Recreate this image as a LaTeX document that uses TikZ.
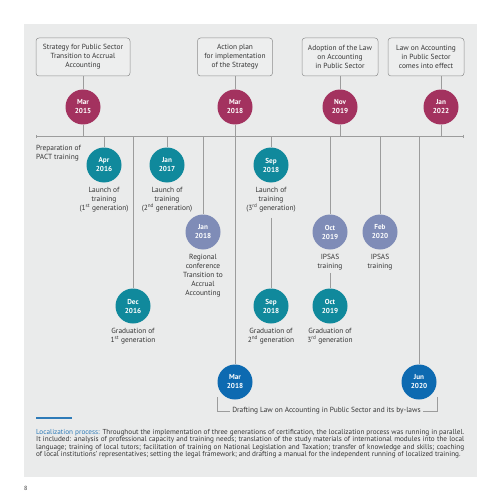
\documentclass[tikz,border=0pt]{standalone}
\usepackage{fontspec}
\setmainfont{PT Sans}
\usetikzlibrary{positioning,arrows.meta}
\definecolor{bgGray}{HTML}{EAEBEB}
\definecolor{boxFill}{HTML}{EDEEEE}
\definecolor{lineGray}{HTML}{9C9C9C}
\definecolor{boxGray}{HTML}{8E8E8E}
\definecolor{txtGray}{HTML}{353535}
\definecolor{lawRed}{HTML}{A3325F}
\definecolor{trainTeal}{HTML}{10899C}
\definecolor{eventLav}{HTML}{7F8CB7}
\definecolor{draftBlue}{HTML}{0D6AB1}
\definecolor{locBlue}{HTML}{2E7BB8}
\begin{document}
\begin{tikzpicture}[x=1pt,y=-1pt,
    font=\fontsize{7.4}{9}\selectfont,text=txtGray,
    date/.style={circle,minimum size=35pt,inner sep=0pt,align=center,
      text=white,font=\fontsize{7.2}{9}\selectfont\bfseries},
    law/.style={date,fill=lawRed},
    launch/.style={date,fill=trainTeal},
    event/.style={date,fill=eventLav},
    draft/.style={date,fill=draftBlue},
    milestone/.style={draw=boxGray,fill=boxFill,rounded corners=3pt,
      minimum height=38pt,inner sep=0pt,align=center,line width=0.5pt},
    caption/.style={align=center,inner sep=0pt},
    link/.style={draw=lineGray,line width=0.7pt}]
  \useasboundingbox (0,0) rectangle (500,500);
  \fill[white] (0,0) rectangle (500,500);
  \fill[bgGray] (24,24) rectangle (477,477);
  \node[milestone,minimum width=94pt] (box1) at (83,57)
    {Strategy for Public Sector\\Transition to Accrual\\Accounting};
  \node[milestone,minimum width=75pt] (box2) at (235,57)
    {Action plan\\for implementation\\of the Strategy};
  \node[milestone,minimum width=76pt] (box3) at (340,57)
    {Adoption of the Law\\on Accounting\\in Public Sector};
  \node[milestone,minimum width=76pt] (box4) at (426,57)
    {Law on Accounting\\in Public Sector\\comes into effect};
  \node[law] (mar15) at (83,107) {Mar\\2015};
  \node[law] (mar18) at (235,107) {Mar\\2018};
  \node[law] (nov19) at (340,107) {Nov\\2019};
  \node[law] (jan22) at (441,107) {Jan\\2022};
  \coordinate (tl) at (36,136);
  \coordinate (tr) at (464,136);
  \node[launch] (apr16) at (104,165) {Apr\\2016};
  \node[launch] (jan17) at (167,165) {Jan\\2017};
  \node[launch] (sep18) at (271,165) {Sep\\2018};
  \node[event] (jan18) at (203,232) {Jan\\2018};
  \node[event] (oct19) at (330,232) {Oct\\2019};
  \node[event] (feb20) at (380,232) {Feb\\2020};
  \node[launch] (dec16) at (133,306) {Dec\\2016};
  \node[launch] (sep18b) at (271,306) {Sep\\2018};
  \node[launch] (oct19b) at (330,306) {Oct\\2019};
  \node[draft] (mar18b) at (235,382) {Mar\\2018};
  \node[draft] (jun20) at (419,382) {Jun\\2020};
  \node[anchor=north west,align=left,inner sep=0pt] (prep) at (36,145)
    {Preparation of\\PACT training};
  \node[caption,below=4pt of apr16] (launch1)
    {Launch of\\training\\(1\textsuperscript{st} generation)};
  \node[caption,below=4pt of jan17] (launch2)
    {Launch of\\training\\(2\textsuperscript{nd} generation)};
  \node[caption,below=4pt of sep18] (launch3)
    {Launch of\\training\\(3\textsuperscript{rd} generation)};
  \node[caption,below=4pt of jan18] (conf)
    {Regional\\conference\\Transition to\\Accrual\\Accounting};
  \node[caption,below=4pt of oct19] (ipsas1) {IPSAS\\training};
  \node[caption,below=4pt of feb20] (ipsas2) {IPSAS\\training};
  \node[caption,below=4pt of dec16] (grad1)
    {Graduation of\\1\textsuperscript{st} generation};
  \node[caption,below=4pt of sep18b] (grad2)
    {Graduation of\\2\textsuperscript{nd} generation};
  \node[caption,below=4pt of oct19b] (grad3)
    {Graduation of\\3\textsuperscript{rd} generation};
  \begin{scope}[link]
    \draw[{Bar[width=3pt]}-{Bar[width=3pt]}] (tl) -- (tr);
    \draw (box1) -- (mar15) -- (mar15 |- tl);
    \draw (box2) -- (mar18) -- (mar18b);
    \draw (box3) -- (nov19) -- (nov19 |- tl);
    \draw (box4.south -| jan22) -- (jan22) -- (jan22 |- tl);
    \draw (apr16 |- tl) -- (apr16);
    \draw (jan17 |- tl) -- (jan17);
    \draw (sep18 |- tl) -- (sep18);
    \draw (jan18 |- tl) -- (jan18);
    \draw (oct19 |- tl) -- (oct19);
    \draw (feb20 |- tl) -- (feb20);
    \draw (dec16 |- tl) -- (dec16);
    \draw (jun20 |- tl) -- (jun20);
    \draw[shorten <=6pt] (launch3) -- (sep18b);
    \draw[shorten <=3pt] (ipsas1) -- (oct19b);
  \end{scope}
  \node[inner sep=2pt] (drafting) at (326.5,411)
    {Drafting Law on Accounting in Public Sector and its by-laws};
  \coordinate (dl) at (217,397);
  \coordinate (dr) at (437,397);
  \draw[link] (dl) |- (drafting.west);
  \draw[link] (dr) |- (drafting.east);
  \coordinate (barl) at (36,418);
  \coordinate (barr) at (72,418);
  \draw[locBlue,line width=2pt] (barl) -- (barr);
  \node[anchor=north west,text width=428pt,align=justify,inner sep=0pt,
    font=\fontsize{7.2}{7.4}\selectfont] (loc) at (36,429)
    {{\color{locBlue}Localization process:} Throughout the implementation of three generations of certification, the localization process was running in parallel.\linebreak
    It included: analysis of professional capacity and training needs; translation of the study materials of international modules into the local\linebreak
    language; training of local tutors; facilitation of training on National Legislation and Taxation; transfer of knowledge and skills; coaching\linebreak
    of local institutions’ representatives; setting the legal framework; and drafting a manual for the independent running of localized training.\par};
  \node[anchor=west,inner sep=0pt,font=\fontsize{6}{6}\selectfont] (page) at (24,488) {8};
\end{tikzpicture}
\end{document}
